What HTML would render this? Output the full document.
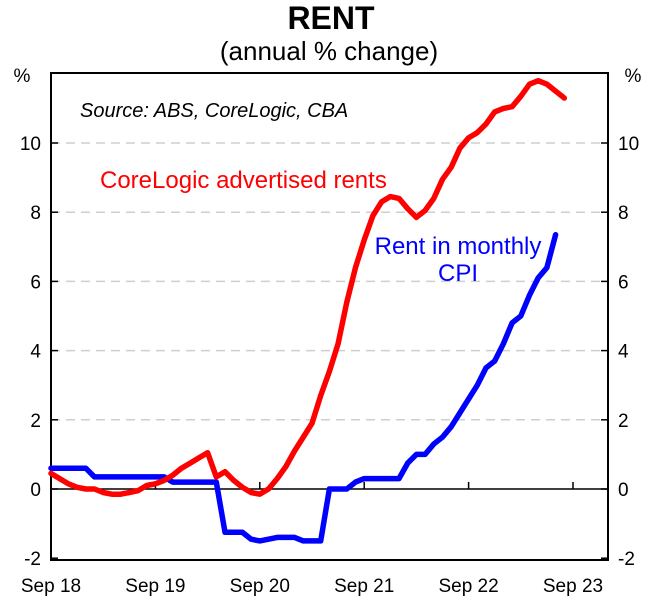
<!DOCTYPE html>
<html><head><meta charset="utf-8"><style>
body{margin:0;background:#fff;font-family:"Liberation Sans",Arial,sans-serif}
svg{display:block}
</style></head><body>
<svg id="chart" width="661" height="614" xmlns="http://www.w3.org/2000/svg" font-family="Liberation Sans, Arial, sans-serif">
<text x="331" y="29" text-anchor="middle" font-size="32" font-weight="bold">RENT</text>
<text x="329" y="60" text-anchor="middle" font-size="26">(annual % change)</text>
<text x="22" y="82" text-anchor="middle" font-size="19">%</text>
<text x="633" y="82" text-anchor="middle" font-size="19">%</text>
<g id="grid"></g><g id="axes"></g><g id="series"></g>
<text x="80" y="117" font-size="20" font-style="italic">Source: ABS, CoreLogic, CBA</text>
<text x="100" y="188" font-size="24" fill="#ff0000">CoreLogic advertised rents</text>
<text x="458" y="254" text-anchor="middle" font-size="24" fill="#0000ff">Rent in monthly</text>
<text x="458" y="281" text-anchor="middle" font-size="24" fill="#0000ff">CPI</text>
</svg>
<script>
const yTicks=[-2,0,2,4,6,8,10];
const xLabels=["Sep 18","Sep 19","Sep 20","Sep 21","Sep 22","Sep 23"];
const xLabelMonths=[0,12,24,36,48,60];
const corelogic=[0.45,0.3,0.15,0.05,0,0,-0.1,-0.15,-0.15,-0.1,-0.05,0.1,0.15,0.25,0.4,0.6,0.75,0.9,1.05,0.35,0.5,0.25,0.05,-0.1,-0.15,0,0.3,0.65,1.1,1.5,1.9,2.7,3.4,4.2,5.4,6.4,7.2,7.9,8.3,8.45,8.4,8.1,7.85,8.05,8.4,8.95,9.3,9.85,10.15,10.3,10.55,10.9,11.0,11.05,11.35,11.7,11.8,11.7,11.5,11.3];
const cpiRent=[0.6,0.6,0.6,0.6,0.6,0.35,0.35,0.35,0.35,0.35,0.35,0.35,0.35,0.35,0.2,0.2,0.2,0.2,0.2,0.2,-1.25,-1.25,-1.25,-1.45,-1.5,-1.45,-1.4,-1.4,-1.4,-1.5,-1.5,-1.5,0,0,0,0.2,0.3,0.3,0.3,0.3,0.3,0.75,1.0,1.0,1.3,1.5,1.8,2.2,2.6,3.0,3.5,3.7,4.2,4.8,5.0,5.6,6.1,6.4,7.35];
const L=51,R=608,T=73,B=560;
const X=m=>L+m*8.7;
const Y=v=>489-v*34.6;
const NS="http://www.w3.org/2000/svg";
function mk(tag,parent,attrs){const e=document.createElementNS(NS,tag);for(const k in attrs)e.setAttribute(k,attrs[k]);document.getElementById(parent).appendChild(e);return e;}
yTicks.forEach(v=>{
  if(v>0){const g=mk('line','grid',{x1:L,x2:R,y1:Y(v),y2:Y(v),stroke:'#cfcfcf','stroke-width':1.5,'stroke-dasharray':'9,6'});
  
  }
  const tl=mk('text','axes',{x:L-10,y:Y(v)+7,'text-anchor':'end','font-size':19});tl.textContent=v;
  
  
  const tr=mk('text','axes',{x:R+10,y:Y(v)+7,'font-size':19});tr.textContent=v;
  
  
  mk('line','axes',{x1:L,x2:L+7,y1:Y(v),y2:Y(v),stroke:'#000','stroke-width':1.5});
  mk('line','axes',{x1:R-7,x2:R,y1:Y(v),y2:Y(v),stroke:'#000','stroke-width':1.5});
});
const z=mk('line','axes',{x1:L,x2:R,y1:Y(0),y2:Y(0),stroke:'#000','stroke-width':1.5});


const fr=mk('rect','axes',{x:L,y:T,width:R-L,height:B-T,fill:'none',stroke:'#000','stroke-width':2});


xLabels.forEach((s,i)=>{
  const x=X(xLabelMonths[i]);
  mk('line','axes',{x1:x,x2:x,y1:Y(0)-7,y2:Y(0),stroke:'#000','stroke-width':1.5});
  const t=mk('text','axes',{x:x,y:592,'text-anchor':'middle','font-size':19});t.textContent=s;
  
  
});
function line(data,color,name){
  const d=data.map((v,i)=>(i?'L':'M')+X(i).toFixed(1)+','+Y(v).toFixed(1)).join('');
  const p=mk('path','series',{d:d,fill:'none',stroke:color,'stroke-width':5.5,'stroke-linejoin':'round','stroke-linecap':'round'});
  
  
}
line(cpiRent,'#0000ff','cpi-rent-line');
line(corelogic,'#ff0000','corelogic-rent-line');
</script>
</body></html>
